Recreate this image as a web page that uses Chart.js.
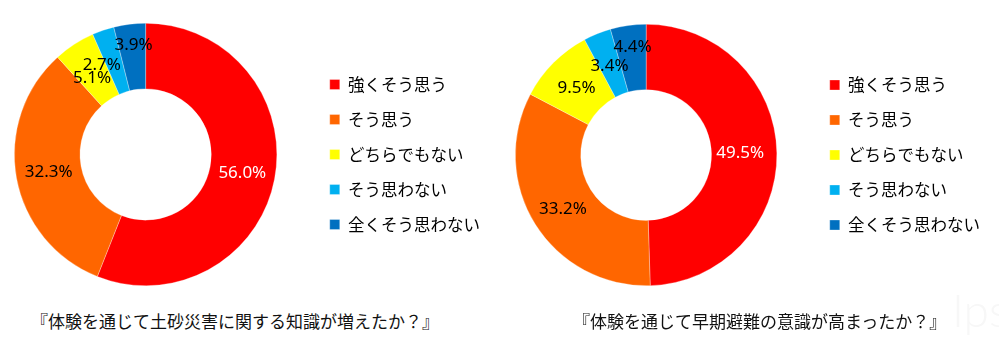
<!DOCTYPE html>
<html><head><meta charset="utf-8">
<script src="https://cdn.jsdelivr.net/npm/chart.js@4.4.1/dist/chart.umd.min.js"></script>
<style>
html,body{margin:0;padding:0;background:#fff;width:999px;height:357px;overflow:hidden;position:relative;font-family:"Noto Sans CJK JP",sans-serif;}
canvas{position:absolute;top:0;}
.title{position:absolute;top:309px;font-size:17px;color:#111;white-space:nowrap;line-height:24px;}
.wm{position:absolute;left:952px;top:282px;font-family:Lato,"DejaVu Sans",sans-serif;font-weight:300;font-size:46px;color:#f7f7f7;line-height:56px;white-space:nowrap;}
</style></head><body>
<canvas id="c1" width="510" height="300" style="left:-20px"></canvas>
<canvas id="c2" width="509" height="300" style="left:481px"></canvas>
<div class="title" style="left:31px">『体験を通じて土砂災害に関する知識が増えたか？』</div>
<div class="title" style="left:573px">『体験を通じて早期避難の意識が高まったか？』</div>
<div class="wm">Ips</div>
<script>
const categories = ['強くそう思う','そう思う','どちらでもない','そう思わない','全くそう思わない'];
const knowledgeValues = [56.0, 32.3, 5.1, 2.7, 3.9];
const evacuationValues = [49.5, 33.2, 9.5, 3.4, 4.4];
const sliceColors = ['#FF0000','#FF6600','#FFFF00','#00B0F0','#0070C0'];

const pctLabels = {
  id:'pctLabels',
  afterDatasetsDraw(chart, args, opts){
    const ctx = chart.ctx;
    const meta = chart.getDatasetMeta(0);
    const ds = chart.data.datasets[0];
    ctx.save();
    ctx.font = '17px "Noto Sans", sans-serif';
    ctx.textAlign = 'center';
    ctx.textBaseline = 'middle';
    meta.data.forEach((arc, i) => {
      const p = arc.tooltipPosition(true);
      const off = (opts.offsets && opts.offsets[i]) || [0,0];
      ctx.fillStyle = opts.colors[i];
      ctx.fillText(ds.data[i].toFixed(1) + '%', p.x + off[0], p.y + off[1]);
    });
    ctx.restore();
  }
};

function makeChart(id, values, padTop, offsets, labelColors){
  return new Chart(document.getElementById(id), {
    type:'doughnut',
    data:{
      labels: categories,
      datasets:[{
        data: values,
        backgroundColor: sliceColors,
        borderColor: 'rgba(255,255,255,0.6)',
        borderWidth: 0.5,
        hoverOffset: 0
      }]
    },
    options:{
      responsive:false,
      devicePixelRatio:1,
      animation:false,
      cutout:'50%',
      layout:{padding:{top:padTop,bottom:14,left:0,right:0}},
      plugins:{
        tooltip:{enabled:false},
        legend:{
          position:'right',
          labels:{
            boxWidth:10, boxHeight:10, padding:18.5,
            color:'#000',
            font:{family:'"Noto Sans CJK JP", sans-serif', size:16.5}
          }
        },
        pctLabels:{offsets: offsets, colors: labelColors}
      }
    },
    plugins:[pctLabels]
  });
}

makeChart('c1', knowledgeValues, 23,
  [[0,0],[0,0],[0,6],[-12,4],[0,-12]],
  ['#fff','#000','#000','#000','#000']);
makeChart('c2', evacuationValues, 24,
  [[-4,0],[0,2],[0,2],[0,2],[0,-11]],
  ['#fff','#000','#000','#000','#000']);
</script>
</body></html>
